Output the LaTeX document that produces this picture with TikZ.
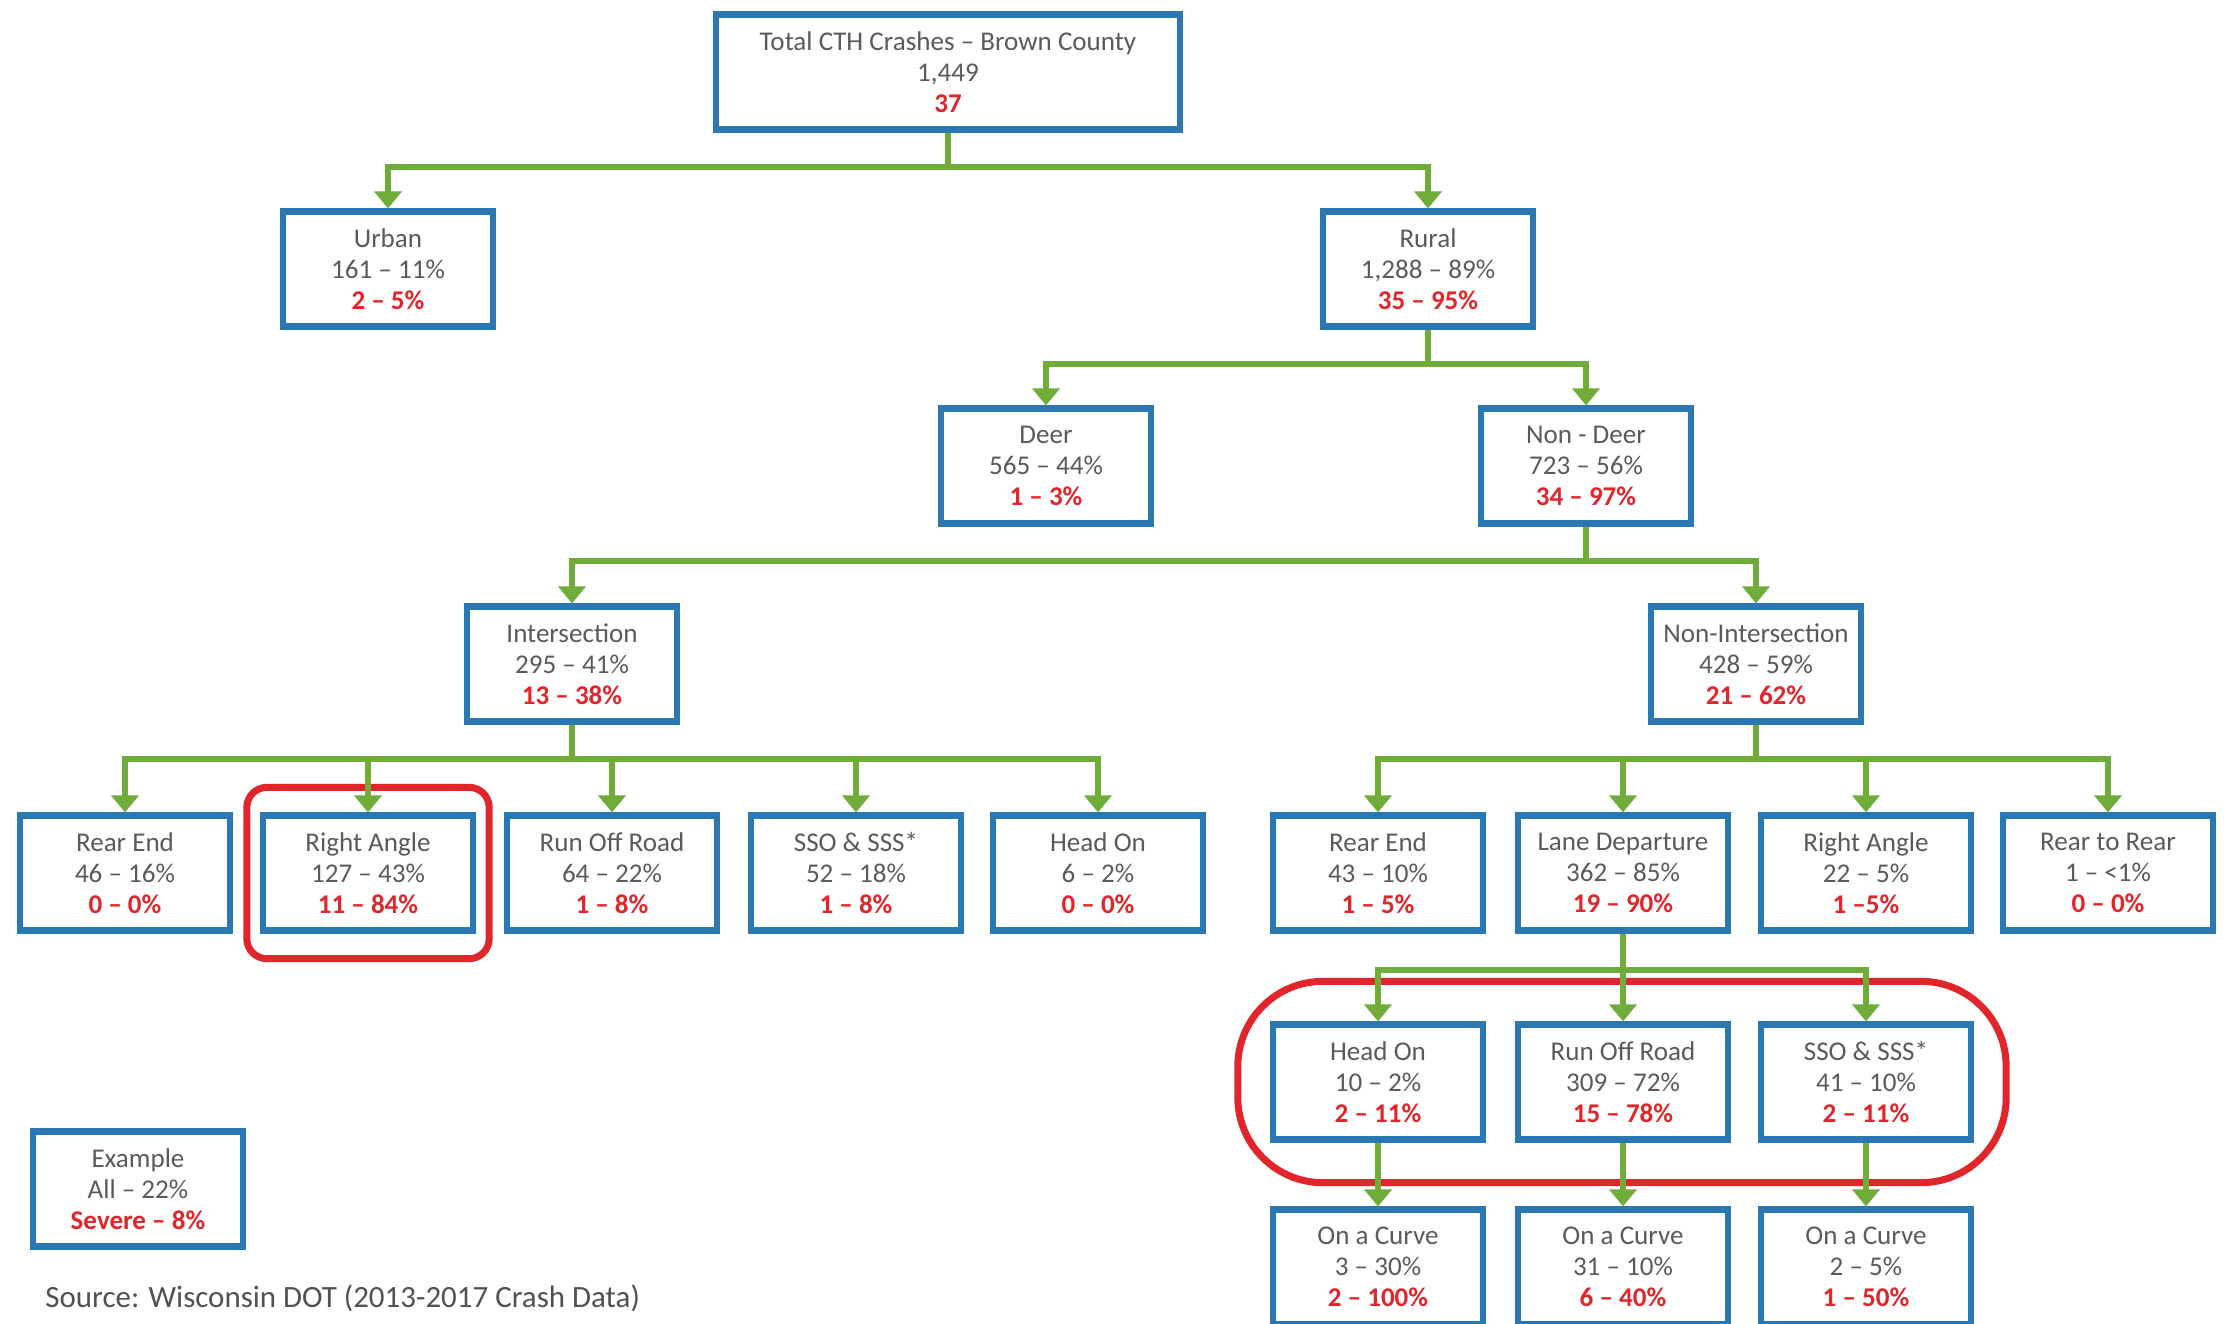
\documentclass[tikz,border=0pt]{standalone}
\usepackage{fontspec}
\setmainfont{Carlito}
\usetikzlibrary{arrows.meta}
\usetikzlibrary{fit}
\tikzset{>={Triangle[width=0.27cm,length=0.17cm]}}
\definecolor{boxblue}{HTML}{2B77B2}
\definecolor{linkgreen}{HTML}{6FAC3A}
\definecolor{severered}{HTML}{E0262B}
\definecolor{textgray}{HTML}{5A5A5A}
\newcommand{\crashes}[3]{#1\\#2\\\textcolor{severered}{\bfseries #3}}

\begin{document}
\begin{tikzpicture}[x=0.01cm, y=-0.01cm,
    crashbox/.style={draw=boxblue, line width=0.062cm, fill=white, minimum width=2.1cm,
      minimum height=1.15cm, align=center, text=textgray, font=\fontsize{7.7}{8.8}\selectfont},
    link/.style={draw=linkgreen, line width=0.06cm, ->},
    ring/.style={draw=severered, line width=0.07cm}]
  \useasboundingbox[fill=white] (0,0) rectangle (2229,1324);
  \node[crashbox, minimum width=4.63cm] (top) at (948,72) {\crashes{Total CTH Crashes -- Brown County}{1,449}{37}};
  \node[crashbox] (urban) at (388,269) {\crashes{Urban}{161 -- 11\%}{2 -- 5\%}};
  \node[crashbox] (rural) at (1428,269) {\crashes{Rural}{1,288 -- 89\%}{35 -- 95\%}};
  \node[crashbox] (deer) at (1046,466) {\crashes{Deer}{565 -- 44\%}{1 -- 3\%}};
  \node[crashbox] (nondeer) at (1586,466) {\crashes{Non - Deer}{723 -- 56\%}{34 -- 97\%}};
  \node[crashbox] (inter) at (572,664) {\crashes{Intersection}{295 -- 41\%}{13 -- 38\%}};
  \node[crashbox] (noninter) at (1756,664) {\crashes{Non-Intersection}{428 -- 59\%}{21 -- 62\%}};
  \node[crashbox] (iRear) at (125,873) {\crashes{Rear End}{46 -- 16\%}{0 -- 0\%}};
  \node[crashbox] (iRight) at (368,873) {\crashes{Right Angle}{127 -- 43\%}{11 -- 84\%}};
  \node[crashbox] (iRun) at (612,873) {\crashes{Run Off Road}{64 -- 22\%}{1 -- 8\%}};
  \node[crashbox] (iSso) at (856,873) {\crashes{SSO \& SSS*}{52 -- 18\%}{1 -- 8\%}};
  \node[crashbox] (iHead) at (1098,873) {\crashes{Head On}{6 -- 2\%}{0 -- 0\%}};
  \node[crashbox] (nRear) at (1378,873) {\crashes{Rear End}{43 -- 10\%}{1 -- 5\%}};
  \node[crashbox] (nLane) at (1623,873) {\crashes{Lane Departure}{362 -- 85\%}{19 -- 90\%}};
  \node[crashbox] (nRight) at (1866,873) {\crashes{Right Angle}{22 -- 5\%}{1 --5\%}};
  \node[crashbox] (nRtr) at (2108,873) {\crashes{Rear to Rear}{1 -- <1\%}{0 -- 0\%}};
  \node[crashbox] (lHead) at (1378,1082) {\crashes{Head On}{10 -- 2\%}{2 -- 11\%}};
  \node[crashbox] (lRun) at (1623,1082) {\crashes{Run Off Road}{309 -- 72\%}{15 -- 78\%}};
  \node[crashbox] (lSso) at (1866,1082) {\crashes{SSO \& SSS*}{41 -- 10\%}{2 -- 11\%}};
  \node[crashbox] (cHead) at (1378,1267) {\crashes{On a Curve}{3 -- 30\%}{2 -- 100\%}};
  \node[crashbox] (cRun) at (1623,1267) {\crashes{On a Curve}{31 -- 10\%}{6 -- 40\%}};
  \node[crashbox] (cSso) at (1866,1267) {\crashes{On a Curve}{2 -- 5\%}{1 -- 50\%}};
  \node[crashbox] (example) at (138,1189) {\crashes{Example}{All -- 22\%}{Severe -- 8\%}};
  \node[anchor=west, text=textgray!90!black, font=\fontsize{8.8}{10}\selectfont] (source) at (33,1298) {Source: Wisconsin DOT (2013-2017 Crash Data)};

  \node[ring, rounded corners=0.2cm, inner xsep=0.13cm, inner ysep=0.25cm, fit=(iRight)] (ringA) {};
  \node[ring, rounded corners=0.85cm, inner xsep=0.32cm, inner ysep=0.4cm, fit=(lHead)(lSso)] (ringB) {};

  \foreach \c in {urban,rural} \draw[link] (top.south) -- ++(0,34) -| (\c.north);
  \foreach \c in {deer,nondeer} \draw[link] (rural.south) -- ++(0,34) -| (\c.north);
  \foreach \c in {inter,noninter} \draw[link] (nondeer.south) -- ++(0,34) -| (\c.north);
  \foreach \c in {iRear,iRight,iRun,iSso,iHead} \draw[link] (inter.south) -- ++(0,34) -| (\c.north);
  \foreach \c in {nRear,nLane,nRight,nRtr} \draw[link] (noninter.south) -- ++(0,34) -| (\c.north);
  \foreach \c in {lHead,lRun,lSso} \draw[link] (nLane.south) -- ++(0,36) -| (\c.north);
  \draw[link] (lHead) -- (cHead);
  \draw[link] (lRun) -- (cRun);
  \draw[link] (lSso) -- (cSso);
\end{tikzpicture}
\end{document}
